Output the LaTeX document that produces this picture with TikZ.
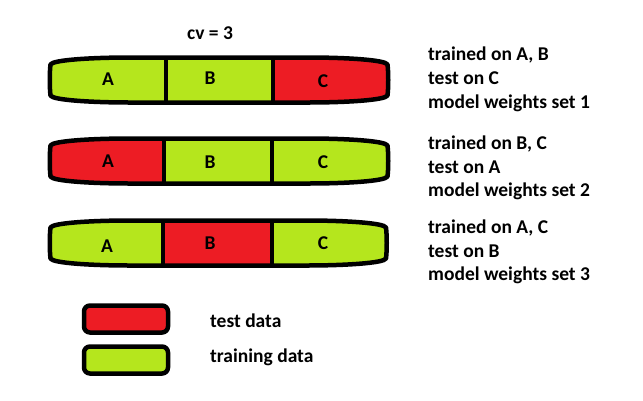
\documentclass[tikz,border=0pt]{standalone}
\usepackage{fontspec}
\setmainfont{Carlito}
\definecolor{paintred}{HTML}{ED1C24}
\definecolor{paintgreen}{HTML}{B5E61D}
\newcommand\cvbarpath[4]{(#1,#3+7) .. controls (#1+2,#3+2.5) and (#1+40,#3) .. (#1+80,#3) -- (#2-80,#3) .. controls (#2-40,#3) and (#2-2,#3+2.5) .. (#2,#3+7) .. controls (#2+1,#3+15) and (#2+1,#4-15) .. (#2,#4-7) .. controls (#2-2,#4-2.5) and (#2-40,#4) .. (#2-80,#4) -- (#1+80,#4) .. controls (#1+40,#4) and (#1+2,#4-2.5) .. (#1,#4-7) .. controls (#1-1,#4-15) and (#1-1,#3+15) .. cycle}
% #1 left, #2 right, #3 top, #4 bottom, #5 div1, #6 div2, #7 col A, #8 col B, #9 col C
\newcommand\cvbar[9]{%
  \begin{scope}
    \clip \cvbarpath{#1}{#2}{#3}{#4};
    \fill[#7] (#1-5,#3-5) rectangle (#5,#4+5);
    \fill[#8] (#5,#3-5) rectangle (#6,#4+5);
    \fill[#9] (#6,#3-5) rectangle (#2+5,#4+5);
  \end{scope}
  \draw[divline] (#5,#3) -- (#5,#4);
  \draw[divline] (#6,#3) -- (#6,#4);
  \draw[barline] \cvbarpath{#1}{#2}{#3}{#4};
}
\tikzset{
  barline/.style={line width=4.5pt, line join=round},
  divline/.style={line width=4pt},
  lbl/.style={font=\fontsize{19.5}{22}\selectfont\bfseries, inner sep=0pt},
  side/.style={lbl, anchor=base west},
  legbox/.style={draw, line width=4.5pt, rounded corners=6pt, minimum width=84pt, minimum height=27pt, inner sep=0pt},
}
\begin{document}
\begin{tikzpicture}[x=1pt,y=-1pt]
\useasboundingbox[fill=white] (0,0) rectangle (643,400);

\node[lbl] (cv) at (210,33) {cv = 3};

\cvbar{50.5}{387.5}{57.5}{102.5}{166}{273}{paintgreen}{paintgreen}{paintred}
\cvbar{50.5}{387.5}{138.5}{183.5}{164}{272}{paintred}{paintgreen}{paintgreen}
\cvbar{50.5}{386}{220.5}{265.5}{163}{272}{paintgreen}{paintred}{paintgreen}

\node[lbl] (a1) at (108,79) {A};
\node[lbl] (b1) at (210,78) {B};
\node[lbl] (c1) at (323,81) {C};
\node[lbl] (a2) at (108,161) {A};
\node[lbl] (b2) at (210,162) {B};
\node[lbl] (c2) at (323,162) {C};
\node[lbl] (a3) at (107,246) {A};
\node[lbl] (b3) at (210,243) {B};
\node[lbl] (c3) at (323,243) {C};

\node[side] (t1) at (428,60.7) {trained on A, B};
\node[side] (s1) at (428,84.3) {test on C};
\node[side] (m1) at (428,108.3) {model weights set 1};
\node[side] (t2) at (428,149.3) {trained on B, C};
\node[side] (s2) at (428,173.3) {test on A};
\node[side] (m2) at (428,196.7) {model weights set 2};
\node[side] (t3) at (428,233.3) {trained on A, C};
\node[side] (s3) at (428,257.3) {test on B};
\node[side] (m3) at (428,280.7) {model weights set 3};

\node[legbox, fill=paintred] (legtest) at (126,319) {};
\node[legbox, fill=paintgreen] (legtrain) at (126,360) {};
\node[side] (ltest) at (210,327) {test data};
\node[side] (ltrain) at (210,362) {training data};
\end{tikzpicture}
\end{document}
